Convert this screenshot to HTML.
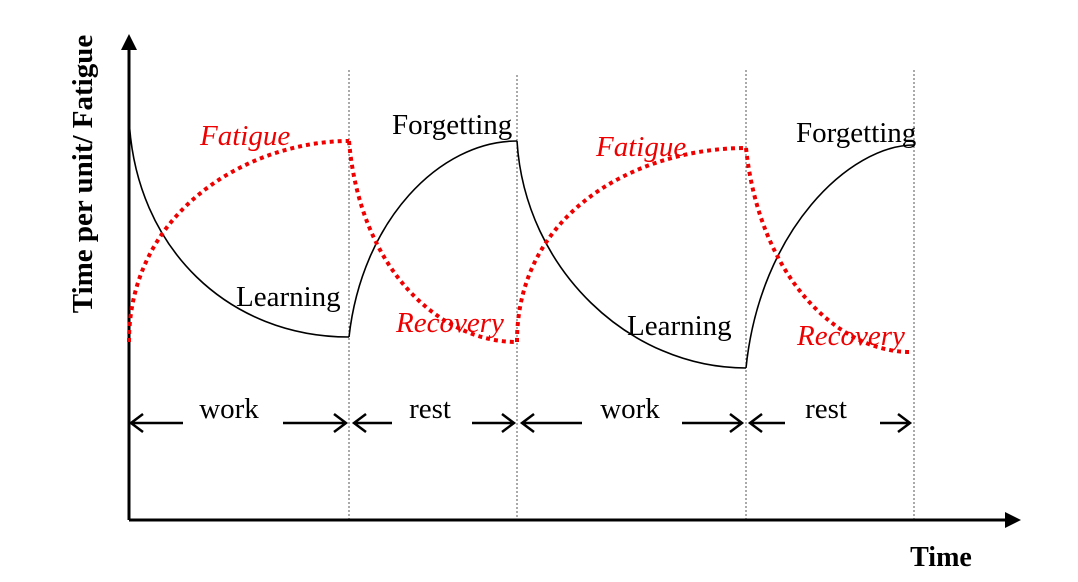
<!DOCTYPE html>
<html><head><style>body{margin:0;background:#fff}svg{display:block}</style></head><body>
<svg width="1078" height="582" xmlns="http://www.w3.org/2000/svg" font-family="Liberation Serif, serif">
<g stroke="#555" stroke-width="1" stroke-dasharray="2,2">
<line x1="349" y1="70" x2="349" y2="520"/><line x1="517" y1="75" x2="517" y2="520"/>
<line x1="746" y1="70" x2="746" y2="520"/><line x1="914" y1="70" x2="914" y2="520"/></g>
<line x1="129" y1="520" x2="129" y2="38" stroke="#000" stroke-width="3"/>
<path d="M121,50 L129,34 L137,50 Z" fill="#000"/>
<line x1="129" y1="520" x2="1008" y2="520" stroke="#000" stroke-width="3"/>
<path d="M1005,512 L1021,520 L1005,528 Z" fill="#000"/>
<g fill="none" stroke="#000" stroke-width="1.6">
<path d="M129,118 C135,250 230,337 349,337"/>
<path d="M349,337 C362,220 440,141 517,141"/>
<path d="M517,141 C525,270 630,368 746,368"/>
<path d="M746,368 C760,230 850,145 914,145"/>
</g>
<g fill="none" stroke="#e00" stroke-width="4" stroke-dasharray="4,4">
<path d="M129,342 C129,210 250,141 349,141"/>
<path d="M349,141 C360,270 440,342 517,342"/>
<path d="M517,342 C517,210 640,148 746,148"/>
<path d="M746,148 C760,280 840,352 910,352"/>
</g>
<g stroke="#000" stroke-width="2.5" fill="none">
<path d="M183,423 H131 M143,414 L131,423 L143,432"/>
<path d="M283,423 H346 M334,414 L346,423 L334,432"/>
<path d="M392,423 H354 M366,414 L354,423 L366,432"/>
<path d="M472,423 H514 M502,414 L514,423 L502,432"/>
<path d="M582,423 H522 M534,414 L522,423 L534,432"/>
<path d="M682,423 H742 M730,414 L742,423 L730,432"/>
<path d="M785,423 H750 M762,414 L750,423 L762,432"/>
<path d="M880,423 H910 M898,414 L910,423 L898,432"/>
</g>
<g font-size="29" fill="#000">
<text x="229" y="418" text-anchor="middle">work</text>
<text x="430" y="418" text-anchor="middle">rest</text>
<text x="630" y="418" text-anchor="middle">work</text>
<text x="826" y="418" text-anchor="middle">rest</text>
<text x="236" y="306">Learning</text>
<text x="627" y="335">Learning</text>
<text x="392" y="134">Forgetting</text>
<text x="796" y="142">Forgetting</text>
</g>
<g font-size="29" fill="#e00" font-style="italic">
<text x="200" y="145">Fatigue</text>
<text x="596" y="156">Fatigue</text>
<text x="396" y="332">Recovery</text>
<text x="797" y="345">Recovery</text>
</g>
<text x="941" y="566" font-size="28" font-weight="bold" text-anchor="middle">Time</text>
<text transform="translate(92,174) rotate(-90)" font-size="29" font-weight="bold" text-anchor="middle">Time per unit/ Fatigue</text>
</svg>
</body></html>
